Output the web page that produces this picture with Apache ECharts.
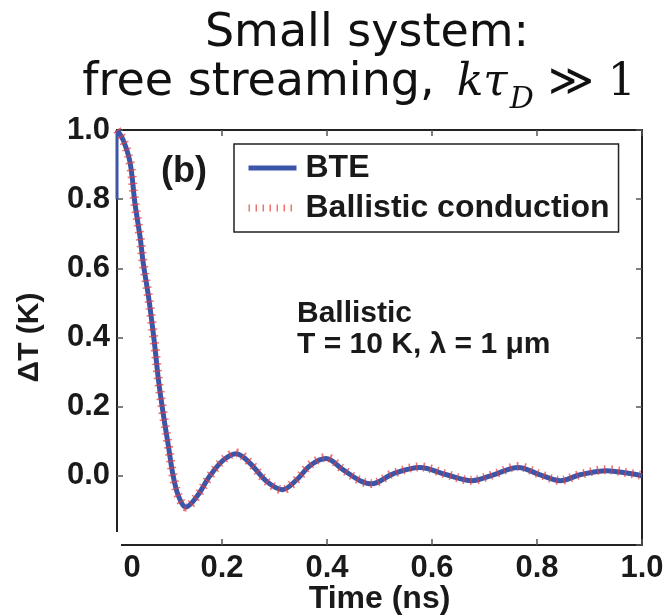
<!DOCTYPE html>
<html><head><meta charset="utf-8">
<script src="https://cdn.jsdelivr.net/npm/echarts@6/dist/echarts.min.js"></script>
<style>html,body{margin:0;padding:0;background:#fff}#c{width:669px;height:615px}</style>
</head><body><div id="c"></div>
<script>
// ---- data ----
const xTicks = [0, 0.2, 0.4, 0.6, 0.8, 1.0];
const yTicks = [-0.2, 0.0, 0.2, 0.4, 0.6, 0.8, 1.0];
const seriesNames = ['BTE', 'Ballistic conduction'];
const xAxisTitle = 'Time (ns)';
const yAxisTitle = 'ΔT (K)';
const panelLabel = '(b)';
const noteLines = ['Ballistic', 'T = 10 K, λ = 1 μm'];
const titleLine1 = 'Small system:';
const titleLine2Text = 'free streaming,';
const titleLine2Math = ['kτ', 'D', ' ≫ 1'];
// initial vertical segment of BTE at t = 0
const bteInitial = [[0, 0.8], [0, 1.0]];
// time (ns), ΔT (K)
const bteData = [
  [0, 1.0], [0.012, 0.97], [0.025, 0.905], [0.034, 0.79], [0.044, 0.69], [0.05, 0.615],
  [0.06, 0.518], [0.066, 0.45], [0.072, 0.375], [0.079, 0.277], [0.088, 0.18], [0.098, 0.085],
  [0.107, 0.0], [0.117, -0.058], [0.131, -0.09], [0.152, -0.06], [0.177, 0.0], [0.203, 0.046],
  [0.227, 0.064], [0.253, 0.037], [0.285, -0.016], [0.315, -0.04], [0.342, -0.012], [0.368, 0.03],
  [0.398, 0.05], [0.431, 0.017], [0.463, -0.014], [0.485, -0.023], [0.526, 0.006], [0.577, 0.024],
  [0.628, 0.003], [0.676, -0.014], [0.717, 0.003], [0.764, 0.024], [0.806, 0.003], [0.844, -0.014],
  [0.882, 0.003], [0.933, 0.015], [0.971, 0.008], [1.0, 0.0]
];
const ballisticData = [
  [0, 1.0], [0.012, 0.97], [0.025, 0.905], [0.034, 0.79], [0.044, 0.69], [0.05, 0.615],
  [0.06, 0.518], [0.066, 0.45], [0.072, 0.375], [0.079, 0.277], [0.088, 0.18], [0.098, 0.085],
  [0.107, 0.0], [0.117, -0.058], [0.131, -0.09], [0.152, -0.06], [0.177, 0.0], [0.203, 0.047],
  [0.227, 0.066], [0.253, 0.038], [0.285, -0.016], [0.315, -0.04], [0.342, -0.011], [0.368, 0.032],
  [0.398, 0.053], [0.431, 0.018], [0.463, -0.014], [0.485, -0.022], [0.526, 0.007], [0.577, 0.026],
  [0.628, 0.004], [0.676, -0.013], [0.717, 0.004], [0.764, 0.027], [0.806, 0.004], [0.844, -0.013],
  [0.882, 0.004], [0.933, 0.018], [0.971, 0.009], [1.0, 0.001]
];

// ---- styles ----
const FONT = 'Liberation Sans';
const INK = '#1a1a1a';
const BLUE = '#3b56a8';
const RED = 'rgba(232,60,60,0.72)';
const labelStyle = {fontSize: 31, fontWeight: 'bold', fontFamily: FONT, color: INK};

const chart = echarts.init(document.getElementById('c'), null, {renderer: 'canvas'});
const xMin = xTicks[0], xMax = xTicks[xTicks.length - 1], xInt = xTicks[1] - xTicks[0];
const yMin = yTicks[0], yMax = yTicks[yTicks.length - 1], yInt = yTicks[2] - yTicks[1];

const axisLineStyle = {show: true, onZero: false, lineStyle: {color: '#222', width: 2}};
const tickStyle = {show: true, inside: true, length: 6, lineStyle: {color: '#555', width: 1.5}};

chart.setOption({
  animation: false,
  backgroundColor: '#fff',
  grid: {left: 117, right: 27, top: 130, bottom: 70, containLabel: false, outerBoundsMode: 'none'},
  xAxis: [{
    type: 'value', min: xMin, max: xMax, interval: xInt, position: 'bottom',
    axisLine: axisLineStyle, axisTick: tickStyle, splitLine: {show: false},
    axisLabel: Object.assign({margin: 8,
      formatter: v => Math.abs(v) < 1e-9 ? '{z|0}' : v.toFixed(1),
      rich: {z: Object.assign({padding: [0, 0, 0, 30]}, labelStyle)}}, labelStyle),
    name: xAxisTitle, nameLocation: 'middle', nameGap: 38, nameMoveOverlap: false,
    nameTextStyle: {fontSize: 32, fontWeight: 'bold', fontFamily: FONT, color: INK}
  }, {
    type: 'value', min: xMin, max: xMax, interval: xInt, position: 'top',
    axisLine: axisLineStyle, axisTick: tickStyle, axisLabel: {show: false}, splitLine: {show: false}
  }],
  yAxis: [{
    type: 'value', min: yMin, max: yMax, interval: yInt, position: 'left',
    axisLine: axisLineStyle, axisTick: tickStyle, splitLine: {show: false},
    axisLabel: Object.assign({margin: 7, showMinLabel: false, formatter: v => v.toFixed(1)}, labelStyle),
    name: yAxisTitle, nameLocation: 'middle', nameGap: 72, nameMoveOverlap: false,
    nameTextStyle: {fontSize: 30, fontWeight: 'bold', fontFamily: FONT, color: INK}
  }, {
    type: 'value', min: yMin, max: yMax, interval: yInt, position: 'right',
    axisLine: axisLineStyle, axisTick: tickStyle, axisLabel: {show: false}, splitLine: {show: false}
  }],
  legend: {
    data: [
      {name: seriesNames[0], itemStyle: {opacity: 0}, lineStyle: {color: BLUE, width: 5}},
      {name: seriesNames[1], itemStyle: {opacity: 0}, lineStyle: {color: RED, width: 7, type: [1.5, 5.5], cap: 'butt'}}
    ],
    orient: 'vertical', left: 234, top: 144,
    padding: [8, 9, 8, 11], itemGap: 8, itemWidth: 48, itemHeight: 14,
    borderColor: '#222', borderWidth: 1.5, backgroundColor: '#fff',
    textStyle: Object.assign({}, labelStyle, {fontSize: 32, padding: [0, 0, 0, 4]})
  },
  series: [{
    name: seriesNames[0], type: 'line', data: bteInitial, symbol: 'none',
    lineStyle: {color: BLUE, width: 3}, itemStyle: {color: BLUE}, silent: true
  }, {
    name: seriesNames[0], type: 'line', data: bteData, symbol: 'none', smooth: 0.35,
    lineStyle: {color: BLUE, width: 5}, itemStyle: {color: BLUE}
  }, {
    name: seriesNames[1], type: 'line', data: ballisticData, symbol: 'none', smooth: 0.35,
    lineStyle: {color: RED, width: 9, type: [1.5, 5.5], cap: 'butt'}, itemStyle: {color: RED}
  }],
  graphic: [
    {type: 'rect', z: 100, shape: {x: 95, y: 532, width: 26, height: 20}, style: {fill: '#fff'}},
    {type: 'text', z: 100, style: {text: panelLabel, x: 184, y: 172, align: 'center', verticalAlign: 'middle',
      font: 'bold 36px "Liberation Sans"', fill: INK}},
    {type: 'text', z: 100, style: {text: noteLines[0], x: 297, y: 314, align: 'left', verticalAlign: 'middle',
      font: 'bold 30px "Liberation Sans"', fill: INK}},
    {type: 'text', z: 100, style: {text: noteLines[1], x: 297, y: 345, align: 'left', verticalAlign: 'middle',
      font: 'bold 30px "Liberation Sans"', fill: INK}},
    {type: 'text', z: 100, style: {text: titleLine1, x: 367, y: 34, align: 'center', verticalAlign: 'middle',
      font: '46px "DejaVu Sans"', fill: '#111'}},
    {type: 'text', z: 100, style: {
      text: '{a|' + titleLine2Text + '}{g| }{m|' + titleLine2Math[0] + '}{s|' + titleLine2Math[1] + '}{n|' + titleLine2Math[2] + '}',
      x: 359, y: 60, align: 'center', verticalAlign: 'top',
      rich: {
        a: {fontSize: 46, fontFamily: 'DejaVu Sans', fill: '#111', verticalAlign: 'top'},
        g: {fontSize: 46, fontFamily: 'DejaVu Sans', fill: '#111', verticalAlign: 'top', width: 22},
        m: {fontSize: 44, fontFamily: 'DejaVu Serif', fontStyle: 'italic', fill: '#111', verticalAlign: 'top', padding: [2, 0, 0, 0]},
        s: {fontSize: 30, fontFamily: 'DejaVu Serif', fontStyle: 'italic', fill: '#111', verticalAlign: 'top', padding: [25, 0, 0, 2]},
        n: {fontSize: 44, fontFamily: 'DejaVu Serif', fill: '#111', verticalAlign: 'top', padding: [2, 0, 0, 0]}
      }}}
  ]
});
</script>
</body></html>
